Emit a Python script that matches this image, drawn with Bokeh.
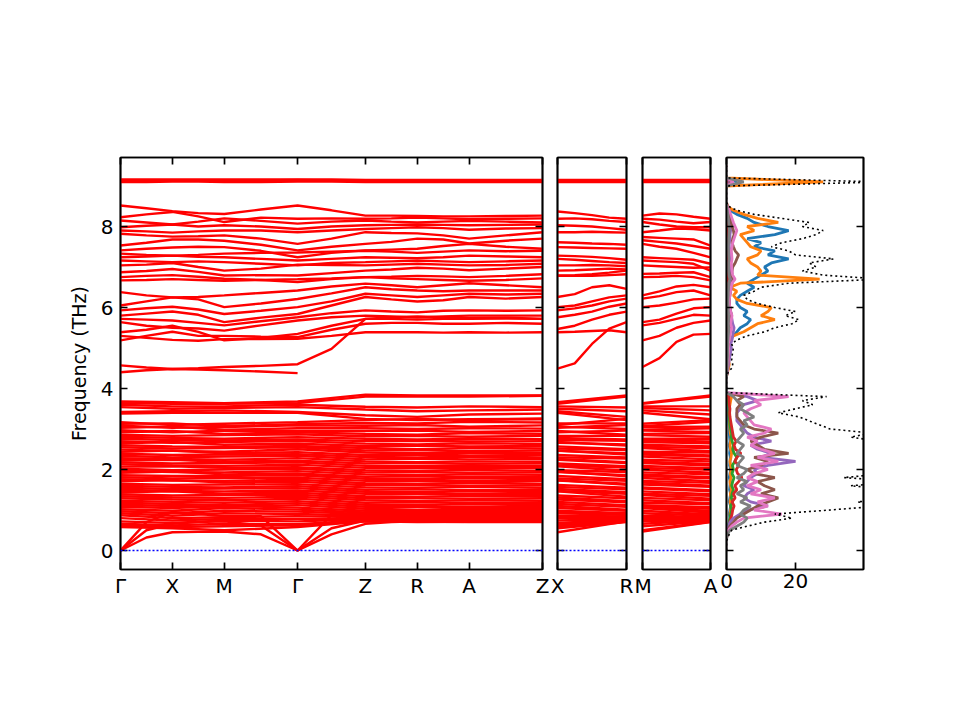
import numpy as np
from bokeh.plotting import figure
from bokeh.models import Range1d, FixedTicker, LinearAxis, CustomJSTickFormatter, Span
from bokeh.layouts import row
from bokeh.embed import file_html
from bokeh.resources import INLINE

# ---------------- k-path ----------------
main_labels = ["Γ", "X", "M", "Γ", "Z", "R", "A", "Z"]
main_segments = [1.0, 1.0, 1.4142, 1.3077, 1.0, 1.0, 1.4142]
xr_labels = ["X", "R"]
ma_labels = ["M", "A"]
side_length = 1.3077
freq_ticks = [0, 2, 4, 6, 8]
dos_ticks = [0, 20]

# ---------------- upper optical bands, main path (Γ,·,X,·,M,·,Γ,·,Z,·,R,·,A,·,Z) ----------------
upper_main = [
    [9.10, 9.10, 9.11, 9.11, 9.10, 9.10, 9.11, 9.11, 9.10, 9.10, 9.10, 9.10, 9.10, 9.10, 9.10],
    [9.13, 9.13, 9.14, 9.13, 9.13, 9.14, 9.15, 9.14, 9.13, 9.13, 9.13, 9.13, 9.13, 9.13, 9.13],
    [9.16, 9.16, 9.16, 9.16, 9.16, 9.16, 9.16, 9.16, 9.15, 9.15, 9.15, 9.15, 9.15, 9.15, 9.15],
    [8.52, 8.45, 8.38, 8.33, 8.31, 8.42, 8.52, 8.40, 8.27, 8.27, 8.26, 8.25, 8.25, 8.26, 8.27],
    [8.23, 8.30, 8.36, 8.25, 8.11, 8.22, 8.19, 8.20, 8.19, 8.20, 8.22, 8.20, 8.18, 8.19, 8.20],
    [8.15, 8.10, 8.05, 8.12, 8.20, 8.14, 8.07, 8.12, 8.15, 8.12, 8.10, 8.12, 8.14, 8.12, 8.10],
    [7.98, 8.02, 8.05, 8.00, 8.03, 8.00, 7.94, 8.00, 8.03, 8.04, 8.05, 8.04, 8.03, 8.04, 8.05],
    [7.90, 7.88, 7.85, 7.88, 7.90, 7.90, 7.86, 7.90, 7.94, 7.96, 7.98, 7.96, 7.92, 7.95, 7.96],
    [7.82, 7.78, 7.75, 7.76, 7.78, 7.70, 7.57, 7.70, 7.86, 7.84, 7.83, 7.78, 7.70, 7.78, 7.86],
    [7.53, 7.60, 7.68, 7.68, 7.65, 7.55, 7.41, 7.50, 7.57, 7.62, 7.70, 7.68, 7.58, 7.65, 7.70],
    [7.41, 7.45, 7.48, 7.50, 7.49, 7.40, 7.24, 7.35, 7.41, 7.43, 7.45, 7.52, 7.57, 7.50, 7.45],
    [7.33, 7.30, 7.28, 7.30, 7.33, 7.35, 7.36, 7.38, 7.40, 7.38, 7.35, 7.38, 7.41, 7.39, 7.40],
    [7.24, 7.26, 7.28, 7.25, 7.24, 7.20, 7.16, 7.20, 7.24, 7.23, 7.22, 7.24, 7.28, 7.26, 7.24],
    [7.16, 7.14, 7.12, 7.14, 7.12, 7.08, 7.04, 7.10, 7.12, 7.14, 7.16, 7.14, 7.12, 7.14, 7.16],
    [7.04, 7.06, 7.10, 7.00, 6.91, 6.96, 7.06, 7.05, 7.04, 7.06, 7.08, 7.06, 7.04, 7.05, 7.08],
    [6.87, 6.90, 6.95, 6.88, 6.79, 6.80, 6.79, 6.85, 6.91, 6.94, 6.98, 6.96, 6.92, 6.96, 7.00],
    [6.75, 6.78, 6.80, 6.76, 6.71, 6.68, 6.63, 6.70, 6.75, 6.76, 6.78, 6.77, 6.75, 6.78, 6.82],
    [6.67, 6.68, 6.70, 6.68, 6.66, 6.68, 6.70, 6.72, 6.75, 6.72, 6.70, 6.68, 6.66, 6.68, 6.72],
    [6.38, 6.30, 6.25, 6.26, 6.30, 6.36, 6.42, 6.52, 6.59, 6.55, 6.50, 6.55, 6.60, 6.55, 6.50],
    [6.05, 6.15, 6.25, 6.20, 6.01, 6.10, 6.21, 6.35, 6.50, 6.45, 6.42, 6.40, 6.42, 6.42, 6.42],
    [5.93, 5.98, 6.02, 5.95, 5.84, 5.92, 6.01, 6.15, 6.34, 6.30, 6.26, 6.30, 6.34, 6.32, 6.34],
    [5.80, 5.85, 5.90, 5.82, 5.64, 5.75, 5.84, 6.05, 6.26, 6.20, 6.15, 6.18, 6.26, 6.22, 6.26],
    [5.72, 5.70, 5.68, 5.62, 5.56, 5.66, 5.76, 5.86, 5.93, 5.90, 5.88, 5.92, 5.93, 5.92, 5.93],
    [5.64, 5.55, 5.50, 5.48, 5.43, 5.56, 5.68, 5.76, 5.80, 5.78, 5.75, 5.78, 5.80, 5.80, 5.80],
    [5.39, 5.45, 5.55, 5.40, 5.19, 5.25, 5.35, 5.55, 5.72, 5.72, 5.70, 5.72, 5.72, 5.73, 5.72],
    [5.19, 5.30, 5.40, 5.30, 5.30, 5.28, 5.27, 5.45, 5.60, 5.62, 5.62, 5.60, 5.60, 5.62, 5.60],
    [5.30, 5.25, 5.20, 5.18, 5.22, 5.22, 5.23, 5.30, 5.39, 5.39, 5.39, 5.38, 5.39, 5.38, 5.39],
    [4.57, 4.52, 4.48, 4.50, 4.53, 4.56, 4.60, 4.98, 5.72, 5.76, 5.78, 5.76, 5.74, 5.75, 5.72],
    [4.40, 4.45, 4.48, 4.47, 4.45, 4.42, 4.38],
]

# ---------------- lower bands, main path at high-symmetry points (Γ,X,M,Γ,Z,R,A,Z) ----------------
lower_main = [
    [3.68, 3.66, 3.64, 3.68, 3.85, 3.83, 3.83, 3.83],
    [3.64, 3.62, 3.62, 3.64, 3.80, 3.80, 3.80, 3.82],
    [3.60, 3.56, 3.56, 3.60, 3.55, 3.53, 3.56, 3.54],
    [3.54, 3.50, 3.52, 3.54, 3.48, 3.44, 3.46, 3.48],
    [3.42, 3.44, 3.46, 3.42, 3.34, 3.30, 3.36, 3.38],
    [3.38, 3.40, 3.40, 3.40, 3.25, 3.22, 3.24, 3.26],
    [3.17, 3.10, 3.13, 3.17, 3.22, 3.25, 3.22, 3.24],
    [3.13, 3.14, 3.07, 3.12, 3.15, 3.14, 3.18, 3.16],
    [3.08, 3.03, 3.05, 3.09, 3.08, 3.10, 3.06, 3.09],
    [3.03, 3.06, 2.98, 3.02, 3.02, 3.00, 3.02, 3.01],
    [2.97, 2.92, 2.96, 2.95, 2.95, 2.96, 2.93, 2.95],
    [2.92, 2.95, 2.88, 2.92, 2.88, 2.86, 2.90, 2.88],
    [2.86, 2.83, 2.85, 2.87, 2.82, 2.83, 2.81, 2.83],
    [2.81, 2.78, 2.76, 2.80, 2.76, 2.74, 2.76, 2.75],
    [2.76, 2.73, 2.72, 2.74, 2.70, 2.71, 2.69, 2.70],
    [2.70, 2.66, 2.68, 2.70, 2.64, 2.62, 2.65, 2.63],
    [2.65, 2.68, 2.61, 2.64, 2.58, 2.59, 2.57, 2.58],
    [2.60, 2.57, 2.56, 2.58, 2.53, 2.50, 2.53, 2.52],
    [2.55, 2.52, 2.53, 2.55, 2.47, 2.48, 2.45, 2.47],
    [2.49, 2.46, 2.44, 2.50, 2.42, 2.40, 2.42, 2.41],
    [2.44, 2.47, 2.40, 2.43, 2.36, 2.37, 2.35, 2.36],
    [2.39, 2.36, 2.37, 2.38, 2.31, 2.30, 2.32, 2.30],
    [2.34, 2.30, 2.32, 2.34, 2.25, 2.27, 2.25, 2.26],
    [2.28, 2.26, 2.24, 2.28, 2.20, 2.18, 2.20, 2.19],
    [2.23, 2.24, 2.19, 2.22, 2.15, 2.16, 2.14, 2.15],
    [2.18, 2.15, 2.16, 2.18, 2.09, 2.08, 2.10, 2.08],
    [2.13, 2.10, 2.09, 2.12, 2.04, 2.05, 2.03, 2.04],
    [2.07, 2.08, 2.04, 2.06, 1.98, 1.97, 1.99, 1.97],
    [2.02, 1.98, 2.00, 2.02, 1.93, 1.94, 1.92, 1.93],
    [1.97, 1.94, 1.93, 1.96, 1.88, 1.86, 1.88, 1.87],
    [1.92, 1.95, 1.88, 1.90, 1.82, 1.83, 1.81, 1.82],
    [1.86, 1.84, 1.84, 1.86, 1.77, 1.76, 1.78, 1.76],
    [1.81, 1.78, 1.79, 1.80, 1.72, 1.72, 1.71, 1.72],
    [1.76, 1.73, 1.72, 1.75, 1.66, 1.65, 1.67, 1.65],
    [1.71, 1.74, 1.68, 1.70, 1.61, 1.62, 1.60, 1.61],
    [1.65, 1.62, 1.63, 1.64, 1.56, 1.55, 1.57, 1.55],
    [1.60, 1.57, 1.56, 1.59, 1.50, 1.51, 1.49, 1.50],
    [1.55, 1.52, 1.53, 1.54, 1.45, 1.44, 1.46, 1.44],
    [1.50, 1.47, 1.46, 1.48, 1.40, 1.40, 1.39, 1.40],
    [1.44, 1.46, 1.40, 1.43, 1.34, 1.33, 1.35, 1.34],
    [1.39, 1.36, 1.37, 1.38, 1.29, 1.29, 1.28, 1.29],
    [1.34, 1.31, 1.30, 1.33, 1.24, 1.22, 1.24, 1.23],
    [1.29, 1.26, 1.24, 1.28, 1.18, 1.19, 1.17, 1.18],
    [1.23, 1.20, 1.18, 1.22, 1.13, 1.12, 1.14, 1.12],
    [1.18, 1.15, 1.12, 1.17, 1.08, 1.08, 1.07, 1.08],
    [1.13, 1.10, 1.08, 1.12, 1.03, 1.01, 1.03, 1.02],
    [1.08, 1.05, 1.10, 1.06, 0.98, 0.98, 0.97, 0.98],
    [1.02, 0.98, 1.05, 1.01, 0.94, 0.92, 0.94, 0.93],
    [0.97, 0.92, 0.98, 0.96, 0.90, 0.88, 0.89, 0.90],
    [0.92, 0.86, 0.92, 0.90, 0.86, 0.84, 0.86, 0.85],
    [0.87, 0.80, 0.82, 0.85, 0.82, 0.80, 0.82, 0.82],
    [0.80, 0.74, 0.78, 0.78, 0.79, 0.78, 0.79, 0.79],
    [0.72, 0.68, 0.74, 0.72, 0.77, 0.76, 0.77, 0.77],
    [0.66, 0.62, 0.66, 0.65, 0.75, 0.74, 0.75, 0.75],
    [0.62, 0.58, 0.60, 0.62, 0.73, 0.72, 0.73, 0.73],
    [0.58, 0.55, 0.50, 0.58, 0.72, 0.70, 0.71, 0.72],
]

# acoustic branches, main path (Γ,·,X,·,M,·,Γ,·,Z,·,R,·,A,·,Z)
acoustic_main = [
    [0.0, 0.32, 0.45, 0.46, 0.47, 0.40, 0.0, 0.40, 0.66, 0.70, 0.72, 0.71, 0.70, 0.70, 0.70],
    [0.0, 0.50, 0.66, 0.70, 0.72, 0.62, 0.0, 0.55, 0.74, 0.76, 0.78, 0.77, 0.76, 0.75, 0.74],
    [0.0, 0.70, 0.95, 0.90, 0.85, 0.85, 0.0, 0.88, 0.92, 0.90, 0.88, 0.90, 0.92, 0.92, 0.92],
]

# ---------------- upper bands of the X–R and M–A panels (5 points each) ----------------
upper_xr = [
    [9.10, 9.10, 9.10, 9.10, 9.10], [9.13, 9.13, 9.13, 9.13, 9.13], [9.15, 9.15, 9.15, 9.15, 9.15],
    [8.37, 8.33, 8.28, 8.22, 8.19], [8.19, 8.20, 8.18, 8.14, 8.11], [8.03, 8.02, 8.00, 7.96, 7.92],
    [7.86, 7.86, 7.87, 7.86, 7.85], [7.61, 7.60, 7.58, 7.57, 7.55], [7.49, 7.48, 7.47, 7.46, 7.45],
    [7.28, 7.27, 7.25, 7.22, 7.18], [7.20, 7.18, 7.15, 7.12, 7.10], [7.04, 7.04, 7.05, 7.04, 7.02],
    [6.91, 6.92, 6.94, 6.96, 6.94], [6.79, 6.80, 6.82, 6.86, 6.91], [6.78, 6.78, 6.78, 6.80, 6.82],
    [6.26, 6.33, 6.50, 6.55, 6.46], [6.01, 6.05, 6.15, 6.25, 6.30], [5.93, 5.98, 6.05, 6.15, 6.22],
    [5.76, 5.82, 5.90, 6.02, 6.10], [5.47, 5.55, 5.70, 5.82, 5.90], [5.39, 5.40, 5.42, 5.44, 5.39],
    [4.49, 4.62, 5.10, 5.48, 5.64],
]
upper_ma = [
    [9.10, 9.10, 9.10, 9.10, 9.10], [9.13, 9.13, 9.13, 9.13, 9.13], [9.15, 9.15, 9.15, 9.15, 9.15],
    [8.27, 8.32, 8.30, 8.24, 8.19], [8.19, 8.17, 8.12, 8.08, 8.11], [8.11, 8.05, 8.00, 7.98, 7.98],
    [7.86, 7.90, 7.95, 7.94, 7.90], [7.74, 7.72, 7.70, 7.68, 7.53], [7.66, 7.62, 7.58, 7.52, 7.45],
    [7.57, 7.50, 7.45, 7.35, 7.24], [7.24, 7.22, 7.20, 7.18, 7.08], [7.16, 7.14, 7.12, 7.08, 6.91],
    [7.04, 7.02, 7.00, 6.98, 6.99], [6.83, 6.84, 6.86, 6.87, 6.75], [6.75, 6.76, 6.78, 6.75, 6.67],
    [6.30, 6.40, 6.52, 6.56, 6.50], [6.22, 6.28, 6.38, 6.42, 6.30], [6.01, 6.05, 6.12, 6.20, 6.22],
    [5.64, 5.70, 5.85, 5.98, 6.01], [5.56, 5.62, 5.72, 5.82, 5.80], [5.19, 5.30, 5.50, 5.62, 5.68],
    [4.53, 4.75, 5.15, 5.33, 5.35],
]

# ---------------- density of states ----------------
dos_freq = [
    0.0, 0.1, 0.2, 0.3, 0.4, 0.5, 0.6, 0.7, 0.8, 0.9,
    1.0, 1.1, 1.2, 1.3, 1.4, 1.5, 1.6, 1.7, 1.8, 1.9,
    2.0, 2.1, 2.2, 2.3, 2.4, 2.5, 2.6, 2.7, 2.8, 2.9,
    3.0, 3.1, 3.2, 3.3, 3.4, 3.5, 3.6, 3.7, 3.8, 3.9,
    4.0, 4.1, 4.2, 4.3, 4.4, 4.5, 4.6, 4.7, 4.8, 4.9,
    5.0, 5.1, 5.2, 5.3, 5.4, 5.5, 5.6, 5.7, 5.8, 5.9,
    6.0, 6.1, 6.2, 6.3, 6.4, 6.5, 6.6, 6.7, 6.8, 6.9,
    7.0, 7.1, 7.2, 7.3, 7.4, 7.5, 7.6, 7.7, 7.8, 7.9,
    8.0, 8.1, 8.2, 8.3, 8.4, 8.5, 8.6, 8.7, 8.8, 8.9,
    9.0, 9.1, 9.2, 9.3, 9.4, 9.5,
]
dos_total = [
    0, 0, 0, 0.3, 0.8, 1.5, 6, 11, 19, 14,
    30, 45, 38, 50, 42, 48, 36, 52, 34, 46,
    40, 55, 44, 50, 58, 46, 52, 44, 36, 42,
    30, 27, 24, 21, 15, 20, 25, 22, 29, 0,
    0, 0, 0, 0, 0.5, 1.5, 1.8, 1.5, 1.6, 1.8,
    2.0, 1.5, 3, 6, 11, 14, 19, 21, 17, 20,
    14, 9, 6, 5, 8, 10, 18, 45, 28, 22,
    26, 24, 31, 20, 18, 13, 16, 22, 26, 28,
    22, 24, 16, 8, 3, 0.5, 0, 0, 0, 0,
    0, 45, 0, 0, 0, 0,
]
pdos_blue = [
    0, 0, 0, 0, 0.2, 0.4, 0.6, 0.8, 1.0, 0.8,
    1.0, 1.2, 0.8, 1.0, 1.2, 0.9, 1.0, 1.1, 0.8, 1.0,
    1.2, 0.9, 1.0, 1.1, 0.9, 1.0, 0.8, 1.0, 0.9, 0.8,
    0.8, 0.7, 0.6, 0.6, 0.5, 0.6, 0.7, 0.6, 0.8, 0,
    0, 0, 0, 0, 0.2, 0.5, 0.6, 0.5, 0.6, 0.7,
    0.8, 0.6, 1.0, 2, 3, 4, 6, 7, 5, 6,
    4, 3, 3, 4, 6, 8, 6, 8, 10, 12,
    11, 13, 18, 12, 14, 8, 10, 6, 14, 18,
    12, 8, 6, 3, 1, 0.2, 0, 0, 0, 0,
    0, 3, 0, 0, 0, 0,
]
pdos_orange = [
    0, 0, 0, 0, 0.2, 0.5, 0.8, 1.0, 1.2, 1.0,
    1.2, 1.4, 1.0, 1.3, 1.1, 1.4, 1.2, 1.0, 1.3, 1.1,
    1.4, 1.2, 1.0, 1.3, 1.5, 1.2, 1.0, 1.2, 1.4, 1.1,
    1.0, 0.9, 0.8, 0.8, 0.7, 0.8, 1.0, 1.2, 1.5, 0,
    0, 0, 0, 0, 0.3, 0.6, 0.8, 0.6, 0.7, 0.9,
    0.8, 0.5, 1, 2, 5, 7, 9, 14, 10, 12,
    13, 6, 3, 2, 3, 1, 4, 27, 9, 10,
    9, 7, 6, 9, 10, 7, 6, 5, 4, 8,
    6, 15, 9, 5, 2, 0.3, 0, 0, 0, 0,
    0, 28, 0, 0, 0, 0,
]
pdos_green = [
    0, 0, 0, 0, 0.2, 0.4, 0.6, 0.8, 1.0, 1.2,
    1.5, 1.2, 1.8, 1.4, 1.6, 2.0, 1.5, 1.8, 2.2, 1.6,
    2.0, 1.7, 2.4, 3.0, 2.2, 1.8, 2.0, 1.6, 1.4, 1.5,
    1.2, 1.0, 0.9, 0.8, 0.7, 0.8, 0.6, 0.5, 0.4, 0,
    0, 0, 0, 0, 0, 0.1, 0.1, 0.1, 0.1, 0.1,
    0.1, 0.1, 0.2, 0.3, 0.3, 0.4, 0.4, 0.5, 0.4, 0.4,
    0.3, 0.3, 0.3, 0.3, 0.4, 0.4, 0.5, 0.8, 0.5, 0.5,
    0.5, 0.5, 0.6, 0.5, 0.5, 0.4, 0.4, 0.5, 0.5, 0.6,
    0.5, 0.5, 0.4, 0.3, 0.2, 0.1, 0, 0, 0, 0,
    0, 0.5, 0, 0, 0, 0,
]
pdos_red = [
    0, 0, 0, 0, 0.2, 0.4, 0.7, 1.0, 1.3, 1.6,
    1.8, 2.2, 1.6, 2.5, 2.0, 3.0, 2.4, 3.5, 4.5, 3.2,
    2.8, 3.6, 2.4, 3.0, 4.2, 2.6, 2.2, 2.8, 2.0, 1.8,
    1.6, 1.4, 1.2, 1.0, 0.9, 1.0, 0.8, 0.7, 0.6, 0,
    0, 0, 0, 0, 0, 0.1, 0.1, 0.1, 0.1, 0.1,
    0.1, 0.1, 0.2, 0.2, 0.3, 0.3, 0.4, 0.4, 0.3, 0.4,
    0.3, 0.2, 0.2, 0.2, 0.3, 0.3, 0.4, 0.6, 0.4, 0.4,
    0.4, 0.4, 0.5, 0.4, 0.4, 0.3, 0.3, 0.4, 0.4, 0.5,
    0.4, 0.4, 0.3, 0.2, 0.1, 0.1, 0, 0, 0, 0,
    0, 0.4, 0, 0, 0, 0,
]
pdos_purple = [
    0, 0, 0, 0, 0.2, 0.4, 0.6, 1.0, 2.0, 4.0,
    6, 12, 7, 5, 6, 8, 5, 6, 7, 9,
    8, 12, 20, 10, 13, 9, 7, 13, 8, 6,
    5, 4, 3, 3, 3, 4, 5, 9, 6, 0,
    0, 0, 0, 0, 0.2, 0.4, 0.6, 0.8, 1.0, 1.2,
    1.4, 1.2, 1.6, 1.8, 2.0, 2.2, 1.8, 1.6, 1.4, 1.2,
    1.0, 0.8, 0.8, 0.8, 0.9, 1.0, 1.0, 1.5, 1.0, 1.0,
    1.0, 1.0, 1.2, 1.0, 1.0, 0.8, 0.8, 1.0, 1.0, 1.2,
    1.0, 1.0, 0.8, 0.6, 0.4, 0.1, 0, 0, 0, 0,
    0, 1, 0, 0, 0, 0,
]
pdos_brown = [
    0, 0, 0, 0, 0.2, 0.4, 1, 2, 3, 5,
    7, 9, 12, 15, 10, 14, 11, 9, 14, 8,
    6, 10, 12, 8, 18, 11, 9, 7, 10, 15,
    8, 5, 4, 3, 3, 3, 4, 3, 5, 0,
    0, 0, 0, 0, 0.2, 0.3, 0.4, 0.5, 0.5, 0.6,
    0.6, 0.5, 0.7, 0.8, 1.0, 1.2, 1.0, 1.2, 1.5, 1.2,
    1.0, 0.8, 0.8, 1.0, 1.2, 1.4, 1.6, 2.0, 1.5, 1.6,
    1.8, 2.5, 3.0, 3.5, 2.5, 2.0, 1.6, 1.8, 2.2, 2.0,
    1.6, 1.4, 1.2, 0.8, 0.4, 0.1, 0, 0, 0, 0,
    0, 1.5, 0, 0, 0, 0,
]
pdos_pink = [
    0, 0, 0, 0, 0.2, 0.5, 1.5, 3, 5, 16,
    8, 12, 9, 14, 7, 10, 6, 9, 6, 8,
    12, 7, 15, 9, 14, 10, 7, 9, 6, 11,
    13, 8, 7, 6, 5, 7, 10, 8, 18, 0,
    0, 0, 0, 0, 0.2, 0.3, 0.4, 0.5, 0.5, 0.6,
    0.6, 0.5, 0.8, 1.0, 1.2, 1.5, 1.2, 1.4, 1.6, 1.2,
    1.0, 0.8, 0.8, 1.0, 1.2, 1.4, 1.6, 2.5, 1.8, 1.6,
    1.5, 1.4, 1.6, 1.5, 1.4, 1.6, 1.8, 2.2, 2.6, 3.0,
    2.5, 2.0, 1.6, 1.2, 0.8, 0.2, 0, 0, 0, 0,
    0, 2, 0, 0, 0, 0,
]
pdos_gray = [
    0, 0, 0, 0, 0.3, 1, 3, 5, 6, 4,
    5, 7, 4, 6, 3, 5, 4, 6, 3, 5,
    6, 3, 4, 5, 3, 4, 5, 3, 4, 5,
    4, 6, 5, 8, 6, 4, 5, 3, 2, 0,
    0, 0, 0, 0, 0.1, 0.2, 0.2, 0.2, 0.3, 0.3,
    0.3, 0.3, 0.4, 0.5, 0.6, 0.6, 0.5, 0.6, 0.6, 0.5,
    0.5, 0.4, 0.4, 0.5, 0.5, 0.6, 0.6, 1.0, 0.7, 0.6,
    0.6, 0.6, 0.7, 0.6, 0.6, 0.5, 0.6, 0.6, 0.7, 0.8,
    0.7, 0.6, 0.5, 0.4, 0.2, 0.1, 0, 0, 0, 0,
    0, 5, 0, 0, 0, 0,
]
pdos_series = [
    (pdos_blue, "#1f77b4"), (pdos_orange, "#ff7f0e"), (pdos_green, "#2ca02c"),
    (pdos_red, "#d62728"), (pdos_purple, "#9467bd"), (pdos_brown, "#8c564b"),
    (pdos_pink, "#e377c2"), (pdos_gray, "#7f7f7f"),
]

# ---------------- geometry / style ----------------
FONT = "DejaVu Sans"
FS = "20px"
YMIN, YMAX = -0.469, 9.704
H = 700
TOP, BOT = 157, 131
BAND_COLOR = "#ff0000"
BAND_W = 2.4

main_ticks = [0.0] + [float(v) for v in np.cumsum(main_segments)]
kx15 = []
for i in range(len(main_segments)):
    kx15 += [main_ticks[i], 0.5 * (main_ticks[i] + main_ticks[i + 1])]
kx15.append(main_ticks[-1])
side_x5 = [0.0, side_length * 0.25, side_length * 0.5, side_length * 0.75, side_length]
side_ticks = [0.0, side_length]


def style_axis(ax, ticks, show_labels, formatter=None):
    ax.ticker = FixedTicker(ticks=ticks)
    ax.major_tick_in = 7
    ax.major_tick_out = 0
    ax.minor_tick_line_color = None
    ax.major_tick_line_width = 1.7
    ax.major_tick_line_color = "black"
    ax.axis_line_color = "black"
    ax.axis_line_width = 1.7
    ax.major_label_text_font = FONT
    ax.major_label_text_color = "black"
    if show_labels:
        ax.major_label_text_font_size = FS
        ax.major_label_standoff = 4
        if formatter is not None:
            ax.formatter = formatter
    else:
        ax.major_label_text_font_size = "0px"
        ax.major_label_standoff = 0
        ax.formatter = CustomJSTickFormatter(code="return '';")


def make_fig(width, xend, bl, br, xticks, xlabels_formatter, show_y):
    p = figure(width=width, height=H, x_range=Range1d(0, xend), y_range=Range1d(YMIN, YMAX),
               output_backend="svg", toolbar_location=None,
               min_border_left=bl, min_border_right=br, min_border_top=TOP, min_border_bottom=BOT,
               background_fill_color="white", border_fill_color="white")
    p.grid.visible = False
    p.outline_line_color = "black"
    p.outline_line_width = 1.7
    style_axis(p.xaxis[0], xticks, True, xlabels_formatter)
    style_axis(p.yaxis[0], freq_ticks, show_y)
    top = LinearAxis()
    style_axis(top, xticks, False)
    p.add_layout(top, "above")
    right = LinearAxis()
    style_axis(right, freq_ticks, False)
    p.add_layout(right, "right")
    return p


# ---------------- main band panel ----------------
p1 = make_fig(549, main_ticks[-1], 120, 7, main_ticks,
              CustomJSTickFormatter(args=dict(labels=main_labels), code="return labels[index];"), True)
p1.yaxis[0].axis_label = "Frequency (THz)"
p1.yaxis[0].axis_label_text_font = FONT
p1.yaxis[0].axis_label_text_font_size = "19px"
p1.yaxis[0].axis_label_text_font_style = "normal"
p1.yaxis[0].axis_label_text_color = "black"
p1.yaxis[0].axis_label_standoff = 8
p1.yaxis[0].major_label_standoff = 7

xs, ys = [], []
for b in lower_main:
    xs.append(main_ticks[:len(b)]); ys.append(b)
for b in acoustic_main + upper_main:
    xs.append(kx15[:len(b)]); ys.append(b)
p1.multi_line(xs, ys, line_color=BAND_COLOR, line_width=BAND_W)

# ---------------- X–R panel ----------------
p2 = make_fig(85, side_length, 8, 8, side_ticks,
              CustomJSTickFormatter(args=dict(labels=xr_labels), code="return labels[index];"), False)
xs, ys = [], []
for b in lower_main:
    xs.append(side_ticks); ys.append([b[1], b[5]])
for b in acoustic_main:
    xs.append(side_ticks); ys.append([b[2], b[10]])
for b in upper_xr:
    xs.append(side_x5); ys.append(b)
p2.multi_line(xs, ys, line_color=BAND_COLOR, line_width=BAND_W)

# ---------------- M–A panel ----------------
p3 = make_fig(84, side_length, 8, 8, side_ticks,
              CustomJSTickFormatter(args=dict(labels=ma_labels), code="return labels[index];"), False)
xs, ys = [], []
for b in lower_main:
    xs.append(side_ticks); ys.append([b[2], b[6]])
for b in acoustic_main:
    xs.append(side_ticks); ys.append([b[4], b[12]])
for b in upper_ma:
    xs.append(side_x5); ys.append(b)
p3.multi_line(xs, ys, line_color=BAND_COLOR, line_width=BAND_W)

for p in (p1, p2, p3):
    p.add_layout(Span(location=0, dimension="width", line_color="blue",
                      line_dash="2 2", line_width=1.3))

# ---------------- DOS panel ----------------
p4 = make_fig(185, 39.7, 8, 40, dos_ticks, None, False)
for vals, col in pdos_series:
    p4.line(vals, dos_freq, line_color=col, line_width=2.8)
p4.line(dos_total, dos_freq, line_color="black", line_width=1.6, line_dash="2 3")

layout = row(p1, p2, p3, p4)
open("out.html", "w").write(file_html(layout, INLINE))
